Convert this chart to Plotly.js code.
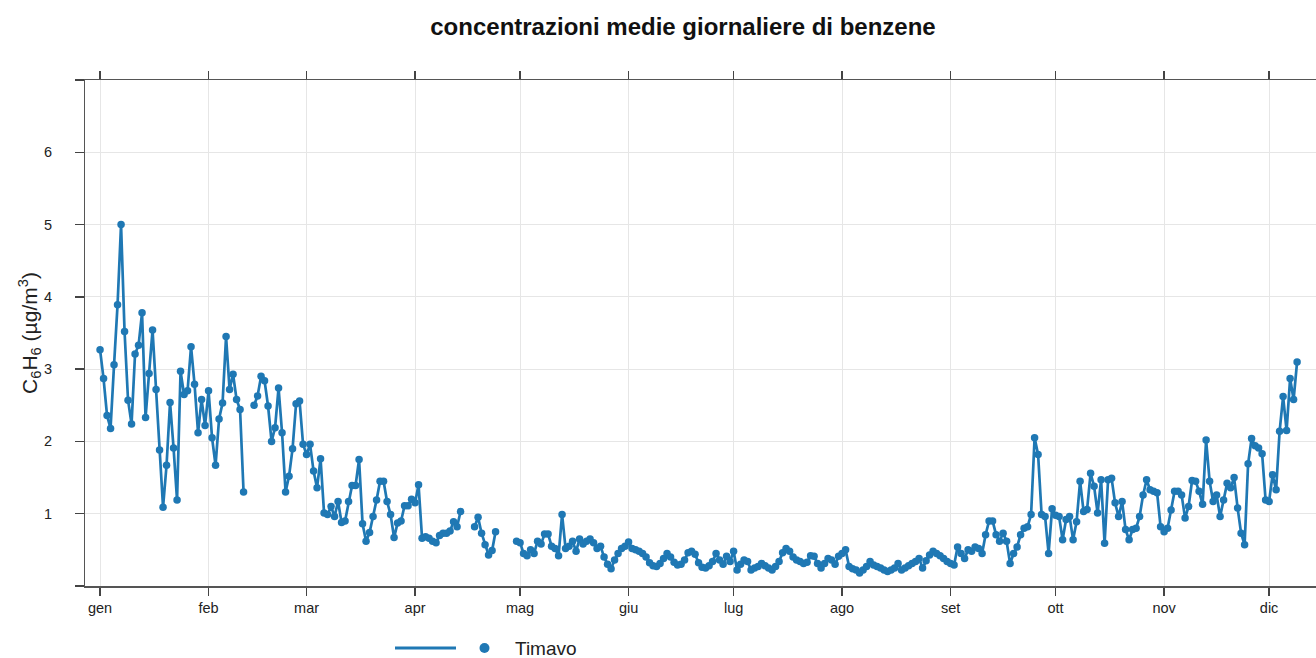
<!DOCTYPE html>
<html>
<head>
<meta charset="utf-8">
<script src="https://cdn.plot.ly/plotly-3.0.1.min.js"></script>
<style>html,body{margin:0;padding:0;background:#fff;}#chart{width:1316px;height:658px;}</style>
</head>
<body>
<div id="chart"></div>
<script>
// Daily mean benzene concentrations (µg/m³), station Timavo, one value per day from 1 January (null = missing)
const jan = [3.27, 2.87, 2.36, 2.18, 3.06, 3.89, 5.00, 3.52, 2.57, 2.24, 3.21, 3.33, 3.78, 2.33, 2.94, 3.54, 2.72, 1.88, 1.09, 1.67, 2.54, 1.91, 1.19, 2.97, 2.65, 2.70, 3.31, 2.79, 2.12, 2.58, 2.22];
const feb = [2.70, 2.05, 1.67, 2.31, 2.53, 3.45, 2.72, 2.93, 2.58, 2.44, 1.30, null, null, 2.50, 2.63, 2.90, 2.84, 2.49, 2.00, 2.19, 2.74, 2.12, 1.30, 1.52, 1.90, 2.52, 2.56, 1.96];
const mar = [1.82, 1.96, 1.59, 1.36, 1.76, 1.01, 0.99, 1.10, 0.96, 1.17, 0.88, 0.90, 1.17, 1.39, 1.39, 1.75, 0.86, 0.62, 0.74, 0.96, 1.19, 1.45, 1.45, 1.17, 0.99, 0.67, 0.87, 0.90, 1.11, 1.11, 1.20];
const apr = [1.15, 1.40, 0.66, 0.68, 0.66, 0.62, 0.60, 0.70, 0.73, 0.73, 0.76, 0.89, 0.82, 1.03, null, null, null, 0.82, 0.95, 0.73, 0.57, 0.43, 0.49, 0.75, null, null, null, null, null, 0.62];
const may = [0.60, 0.45, 0.42, 0.50, 0.45, 0.62, 0.58, 0.72, 0.72, 0.55, 0.52, 0.42, 0.99, 0.52, 0.55, 0.62, 0.48, 0.65, 0.58, 0.62, 0.65, 0.60, 0.52, 0.55, 0.40, 0.30, 0.24, 0.36, 0.45, 0.52, 0.55];
const jun = [0.61, 0.52, 0.50, 0.48, 0.45, 0.40, 0.32, 0.28, 0.27, 0.31, 0.38, 0.45, 0.40, 0.33, 0.29, 0.30, 0.36, 0.46, 0.48, 0.44, 0.32, 0.26, 0.25, 0.28, 0.34, 0.45, 0.36, 0.30, 0.41, 0.34];
const jul = [0.48, 0.22, 0.30, 0.36, 0.34, 0.22, 0.25, 0.27, 0.31, 0.28, 0.25, 0.22, 0.27, 0.34, 0.46, 0.52, 0.48, 0.40, 0.36, 0.34, 0.31, 0.33, 0.42, 0.41, 0.31, 0.25, 0.31, 0.38, 0.36, 0.30, 0.41];
const aug = [0.45, 0.50, 0.27, 0.24, 0.22, 0.18, 0.22, 0.27, 0.34, 0.29, 0.27, 0.25, 0.22, 0.20, 0.22, 0.25, 0.31, 0.22, 0.25, 0.28, 0.31, 0.34, 0.38, 0.25, 0.35, 0.43, 0.48, 0.45, 0.42, 0.38, 0.34];
const sep = [0.31, 0.29, 0.54, 0.45, 0.38, 0.50, 0.48, 0.54, 0.52, 0.45, 0.71, 0.90, 0.90, 0.71, 0.62, 0.73, 0.62, 0.31, 0.45, 0.54, 0.71, 0.80, 0.82, 0.99, 2.05, 1.82, 0.99, 0.96, 0.45, 1.07];
const oct = [0.98, 0.96, 0.64, 0.92, 0.96, 0.64, 0.89, 1.45, 1.03, 1.06, 1.56, 1.38, 1.01, 1.47, 0.59, 1.47, 1.49, 1.15, 0.96, 1.17, 0.78, 0.64, 0.78, 0.80, 0.96, 1.26, 1.47, 1.33, 1.31, 1.29, 0.82];
const nov = [0.75, 0.80, 1.05, 1.31, 1.31, 1.26, 0.94, 1.10, 1.46, 1.45, 1.31, 1.13, 2.02, 1.45, 1.17, 1.26, 0.96, 1.19, 1.42, 1.36, 1.50, 1.08, 0.73, 0.57, 1.69, 2.04, 1.94, 1.91, 1.83, 1.19];
const dec = [1.17, 1.54, 1.33, 2.14, 2.62, 2.15, 2.87, 2.58, 3.10];

const monthLabels = ['gen', 'feb', 'mar', 'apr', 'mag', 'giu', 'lug', 'ago', 'set', 'ott', 'nov', 'dic'];
const yTickVals = [1, 2, 3, 4, 5, 6];
const yTickText = ['1', '2', '3', '4', '5', '6'];
const yEndTicks = [0, 7];
const seriesName = 'Timavo';
const chartTitle = 'concentrazioni medie giornaliere di benzene';
const yTitle = 'C<sub>6</sub>H<sub>6</sub> (µg/m<sup>3</sup>)';
const year = 2023;

// ---- build series ----
const values = [].concat(jan, feb, mar, apr, may, jun, jul, aug, sep, oct, nov, dec);
const DAY = 86400000;
const t0 = Date.UTC(year, 0, 1);
const iso = ms => new Date(ms).toISOString().slice(0, 19).replace('T', ' ');
const dates = values.map((v, i) => iso(t0 + i * DAY));
const monthTicks = monthLabels.map((m, i) => iso(Date.UTC(year, i, 1)));

const blue = '#1f78b4';
const fontFam = '"Liberation Sans", Arial, Helvetica, sans-serif';

const trace = {
  type: 'scatter', mode: 'lines+markers', name: seriesName,
  x: dates, y: values, connectgaps: false,
  line: {color: blue, width: 2.7},
  marker: {color: blue, size: 7.5},
  showlegend: false
};

// plot-area pixel geometry (used for label / legend-key placement only)
const L = 85, R = 1316, T = 80, B = 586;
const px = v => (v - L) / (R - L);
const py = v => (B - v) / (B - T);

// y tick labels placed on the y scale, set further out from the axis as in the reference
const yLabelAnn = yTickVals.map((v, i) => ({
  text: yTickText[i], xref: 'paper', yref: 'y', x: px(53), y: v,
  xanchor: 'right', yanchor: 'middle', showarrow: false, borderpad: 0,
  font: {family: fontFam, size: 14.5, color: '#222'}
}));

const layout = {
  width: 1316, height: 658,
  margin: {l: L, r: 1316 - R, t: T, b: 658 - B, pad: 0},
  paper_bgcolor: '#fff', plot_bgcolor: '#fff',
  font: {family: fontFam, color: '#222', size: 14},
  title: {
    text: '<b>' + chartTitle + '</b>',
    font: {family: fontFam, size: 24, color: '#111'},
    x: 683 / 1316, xref: 'container', xanchor: 'center',
    y: 1 - 27 / 658, yref: 'container', yanchor: 'middle'
  },
  xaxis: {
    type: 'date',
    range: [iso(t0 - 4.3 * DAY), iso(t0 + 347.4 * DAY)],
    tickmode: 'array', tickvals: monthTicks, ticktext: monthLabels,
    ticks: 'outside', ticklen: 8, tickwidth: 1.3, tickcolor: '#444',
    showline: true, linecolor: '#555', linewidth: 1.5, mirror: 'ticks',
    showgrid: true, gridcolor: '#e6e6e6', gridwidth: 1,
    zeroline: false,
    tickfont: {family: fontFam, size: 14.5, color: '#222'}
  },
  yaxis: {
    range: [0, 7],
    tickmode: 'array', tickvals: yTickVals, ticktext: yTickText,
    showticklabels: false,
    ticks: 'outside', ticklen: 9, tickwidth: 1.3, tickcolor: '#444',
    minor: {tickmode: 'array', tickvals: yEndTicks, ticks: 'outside', ticklen: 9, tickwidth: 1.3, tickcolor: '#444', showgrid: false},
    showline: true, linecolor: '#555', linewidth: 1.5, mirror: 'ticks',
    showgrid: true, gridcolor: '#e6e6e6', gridwidth: 1,
    zeroline: false,
    title: {text: yTitle, font: {family: fontFam, size: 21, color: '#222'}, standoff: 31}
  },
  shapes: [
    {type: 'line', xref: 'paper', yref: 'paper', x0: px(395), x1: px(456), y0: py(648), y1: py(648),
     line: {color: blue, width: 3}},
    {type: 'circle', xref: 'paper', yref: 'paper', x0: px(479.5), x1: px(489.5), y0: py(653), y1: py(643),
     fillcolor: blue, line: {color: blue, width: 0}}
  ],
  annotations: yLabelAnn.concat([
    {text: seriesName, xref: 'paper', yref: 'paper', x: px(513), y: py(648), xanchor: 'left', yanchor: 'middle',
     showarrow: false, font: {family: fontFam, size: 19, color: '#222'}}
  ])
};

Plotly.newPlot('chart', [trace], layout, {displayModeBar: false, staticPlot: true});
</script>
</body>
</html>
